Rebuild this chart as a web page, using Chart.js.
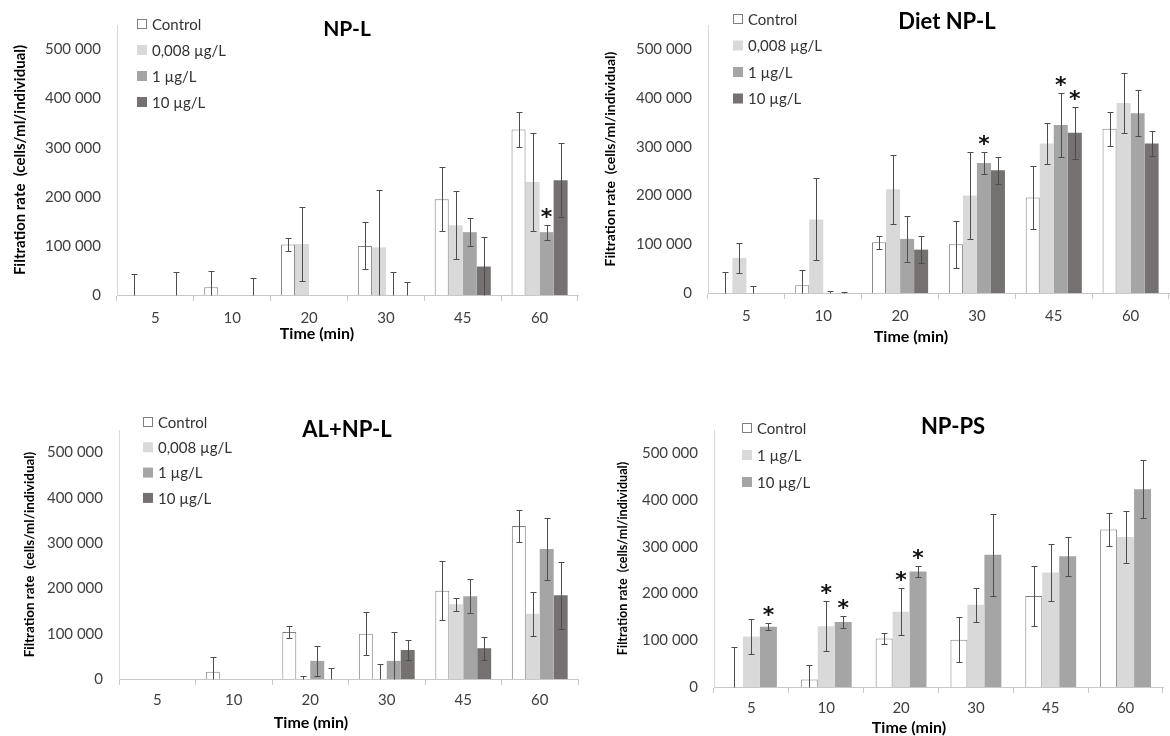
<!DOCTYPE html>
<html>
<head>
<meta charset="utf-8">
<script src="https://cdn.jsdelivr.net/npm/chart.js@4.4.1/dist/chart.umd.min.js"></script>
<style>
  body { margin: 0; background: #fff; width: 1170px; height: 736px; position: relative; overflow: hidden; }
  canvas { position: absolute; }
</style>
</head>
<body>
<canvas id="c1" width="590" height="370" style="left:0;top:0"></canvas>
<canvas id="c2" width="580" height="370" style="left:590px;top:0"></canvas>
<canvas id="c3" width="590" height="361" style="left:0;top:375px"></canvas>
<canvas id="c4" width="580" height="361" style="left:590px;top:375px"></canvas>
<script>
// --- shared axis data ---
const times = ['5', '10', '20', '30', '45', '60'];
const yTicks = [0, 100000, 200000, 300000, 400000, 500000];
const yMax = 550000;
const labels4 = ['Control', '0,008 µg/L', '1 µg/L', '10 µg/L'];
const labels3 = ['Control', '1 µg/L', '10 µg/L'];

// --- NP-L ---
const nplControl    = [0, 16000, 103000, 100000, 195000, 337000];
const nplControlErr = [43000, 32000, 14000, 48000, 65000, 35000];
const nplLow        = [0, 0, 104000, 97000, 142000, 230000];
const nplLowErr     = [0, 0, 75000, 116000, 69000, 100000];
const nplMid        = [0, 0, 0, 0, 128000, 128000];
const nplMidErr     = [0, 0, 0, 47000, 28000, 15000];
const nplHigh       = [0, 0, 0, 0, 58000, 234000];
const nplHighErr    = [47000, 35000, 0, 27000, 60000, 75000];
const nplMidSig     = [0, 0, 0, 0, 0, 1];

// --- Diet NP-L ---
const dietControl    = [0, 16000, 104000, 100000, 196000, 337000];
const dietControlErr = [44000, 32000, 13000, 48000, 64000, 35000];
const dietLow        = [72000, 151000, 213000, 200000, 307000, 390000];
const dietLowErr     = [30000, 84000, 71000, 89000, 42000, 61000];
const dietMid        = [0, 0, 111000, 267000, 345000, 369000];
const dietMidErr     = [14000, 4000, 47000, 22000, 65000, 47000];
const dietHigh       = [0, 0, 89000, 252000, 329000, 307000];
const dietHighErr    = [0, 2000, 28000, 28000, 53000, 25000];
const dietMidSig     = [0, 0, 0, 1, 1, 0];
const dietHighSig    = [0, 0, 0, 0, 1, 0];

// --- AL+NP-L ---
const alControl    = [0, 16000, 104000, 100000, 195000, 338000];
const alControlErr = [0, 32000, 14000, 48000, 65000, 35000];
const alLow        = [0, 0, 0, 0, 165000, 144000];
const alLowErr     = [0, 0, 6000, 33000, 14000, 48000];
const alMid        = [0, 0, 40000, 40000, 183000, 287000];
const alMidErr     = [0, 0, 33000, 64000, 37000, 68000];
const alHigh       = [0, 0, 0, 64000, 68000, 185000];
const alHighErr    = [0, 0, 24000, 23000, 25000, 74000];

// --- NP-PS ---
const psControl    = [0, 16000, 104000, 101000, 195000, 337000];
const psControlErr = [85000, 31000, 12000, 48000, 65000, 35000];
const psLow        = [108000, 130000, 161000, 176000, 245000, 321000];
const psLowErr     = [37000, 53000, 50000, 36000, 62000, 55000];
const psHigh       = [129000, 139000, 247000, 283000, 280000, 423000];
const psHighErr    = [8000, 13000, 12000, 88000, 42000, 62000];
const psLowSig     = [0, 1, 1, 0, 0, 0];
const psHighSig    = [1, 1, 1, 0, 0, 0];

const WHITE = '#ffffff', LIGHT = '#d9d9d9', MID = '#a5a5a5', DARK = '#767171';

Chart.defaults.font.family = 'Lato, "Open Sans", sans-serif';

function fmt(v) {
    return String(v).replace(/\B(?=(\d{3})+(?!\d))/g, ' ');
}

function serie(label, color, data, errors, sig) {
    return {
        label: label,
        data: data,
        errors: errors,
        sig: sig || [],
        backgroundColor: color,
        borderColor: color === WHITE ? '#7f7f7f' : color,
        borderWidth: color === WHITE ? 1 : 0
    };
}

// error bars, asterisks, titles and legend
const decor = {
    id: 'decor',
    afterDatasetsDraw(chart) {
        const { ctx, scales: { y } } = chart;
        ctx.save();
        ctx.strokeStyle = '#4d4d4d';
        ctx.lineWidth = 1;
        chart.data.datasets.forEach((ds, di) => {
            const meta = chart.getDatasetMeta(di);
            meta.data.forEach((bar, i) => {
                const e = ds.errors[i];
                if (!e) return;
                const v = ds.data[i];
                const x = Math.round(bar.x) + 0.5;
                const yTop = Math.round(y.getPixelForValue(v + e)) + 0.5;
                const low = v - e;
                const yBot = Math.round(y.getPixelForValue(Math.max(0, low))) + 0.5;
                ctx.beginPath();
                ctx.moveTo(x, yTop); ctx.lineTo(x, yBot);
                ctx.moveTo(x - 3, yTop); ctx.lineTo(x + 3, yTop);
                if (low > 0) { ctx.moveTo(x - 3, yBot); ctx.lineTo(x + 3, yBot); }
                ctx.stroke();
            });
        });
        // asterisks (significance)
        ctx.fillStyle = '#111';
        ctx.font = 'bold 22px "DejaVu Sans"';
        ctx.textAlign = 'center';
        ctx.textBaseline = 'alphabetic';
        chart.data.datasets.forEach((ds, di) => {
            const meta = chart.getDatasetMeta(di);
            ds.sig.forEach((s, i) => {
                if (!s) return;
                const top = y.getPixelForValue(ds.data[i] + ds.errors[i]);
                ctx.fillText('*', meta.data[i].x, top - 1);
            });
        });
        ctx.restore();
    },
    afterDraw(chart, args, opts) {
        const ctx = chart.ctx;
        ctx.save();
        ctx.textAlign = 'center';
        ctx.textBaseline = 'middle';
        ctx.fillStyle = '#000';
        ctx.font = 'bold ' + opts.titleSize + 'px Lato';
        ctx.fillText(opts.title, opts.titleX, opts.titleY);
        ctx.font = 'bold 16px Lato';
        ctx.fillText('Time (min)', opts.xTitleX, opts.xTitleY);
        // legend
        ctx.textAlign = 'left';
        ctx.font = '15px Lato';
        chart.data.datasets.forEach((ds, i) => {
            const yy = opts.legendY + i * opts.legendStep;
            ctx.fillStyle = ds.backgroundColor;
            ctx.fillRect(opts.legendX, yy - 5, 10, 10);
            if (ds.backgroundColor === WHITE) {
                ctx.strokeStyle = '#7f7f7f';
                ctx.lineWidth = 1;
                ctx.strokeRect(opts.legendX + 0.5, yy - 4.5, 9, 9);
            }
            ctx.fillStyle = '#333';
            ctx.fillText(ds.label, opts.legendX + 15, yy + 1);
        });
        ctx.restore();
    }
};

function makePanel(id, datasets, box, deco) {
    const canvas = document.getElementById(id);
    const yTitleLine = box.yTitleSize * 1.2;
    return new Chart(canvas, {
        type: 'bar',
        data: { labels: times, datasets: datasets },
        options: {
            responsive: false,
            animation: false,
            events: [],
            categoryPercentage: box.catPct,
            barPercentage: 1,
            layout: { padding: { left: 0, top: box.top, right: canvas.width - box.right, bottom: 0 } },
            plugins: {
                legend: { display: false },
                tooltip: { enabled: false },
                decor: deco
            },
            scales: {
                x: {
                    grid: { display: true, offset: true, drawOnChartArea: false, drawTicks: true, tickLength: 6, color: '#c8c8c8' },
                    border: { display: true, color: '#c8c8c8' },
                    ticks: { color: '#404040', font: { size: 15 }, padding: box.xPad, maxRotation: 0 },
                    afterFit: (s) => { s.height = canvas.height - box.bottom; }
                },
                y: {
                    min: 0,
                    max: yMax,
                    grid: { display: false, drawTicks: false },
                    border: { display: true, color: '#d9d9d9' },
                    ticks: { color: '#404040', font: { size: 15 }, padding: 16, callback: (v) => fmt(v) },
                    afterBuildTicks: (s) => { s.ticks = yTicks.map(v => ({ value: v })); },
                    afterFit: (s) => { s.width = box.left; },
                    title: {
                        display: true,
                        text: 'Filtration rate  (cells/ml/individual)',
                        color: '#000',
                        font: { size: box.yTitleSize, weight: 'bold' },
                        padding: { top: box.yTitleX - yTitleLine / 2, bottom: 0 }
                    }
                }
            }
        },
        plugins: [decor]
    });
}

makePanel('c1', [
    serie(labels4[0], WHITE, nplControl, nplControlErr),
    serie(labels4[1], LIGHT, nplLow, nplLowErr),
    serie(labels4[2], MID, nplMid, nplMidErr, nplMidSig),
    serie(labels4[3], DARK, nplHigh, nplHighErr)
], { left: 117, right: 578, top: 25, bottom: 295, xPad: 8, yTitleX: 20, yTitleSize: 15, catPct: 0.73 },
   { title: 'NP-L', titleSize: 21, titleX: 347, titleY: 29, xTitleX: 317, xTitleY: 334,
     legendX: 137, legendY: 24, legendStep: 26 });

makePanel('c2', [
    serie(labels4[0], WHITE, dietControl, dietControlErr),
    serie(labels4[1], LIGHT, dietLow, dietLowErr),
    serie(labels4[2], MID, dietMid, dietMidErr, dietMidSig),
    serie(labels4[3], DARK, dietHigh, dietHighErr, dietHighSig)
], { left: 118, right: 579, top: 17, bottom: 293, xPad: 8, yTitleX: 20, yTitleSize: 14, catPct: 0.73 },
   { title: 'Diet NP-L', titleSize: 22, titleX: 357, titleY: 22, xTitleX: 321, xTitleY: 337,
     legendX: 143, legendY: 19, legendStep: 26.5 });

makePanel('c3', [
    serie(labels4[0], WHITE, alControl, alControlErr),
    serie(labels4[1], LIGHT, alLow, alLowErr),
    serie(labels4[2], MID, alMid, alMidErr),
    serie(labels4[3], DARK, alHigh, alHighErr)
], { left: 119, right: 578, top: 55, bottom: 304, xPad: 6, yTitleX: 30, yTitleSize: 13.4, catPct: 0.73 },
   { title: 'AL+NP-L', titleSize: 22, titleX: 347, titleY: 55, xTitleX: 311, xTitleY: 348,
     legendX: 143, legendY: 47, legendStep: 25.3 });

makePanel('c4', [
    serie(labels3[0], WHITE, psControl, psControlErr),
    serie(labels3[1], LIGHT, psLow, psLowErr, psLowSig),
    serie(labels3[2], MID, psHigh, psHighErr, psHighSig)
], { left: 124, right: 573, top: 55, bottom: 312, xPad: 6, yTitleX: 33, yTitleSize: 12.6, catPct: 0.68 },
   { title: 'NP-PS', titleSize: 22, titleX: 363, titleY: 52, xTitleX: 319, xTitleY: 353,
     legendX: 152, legendY: 53, legendStep: 27 });
</script>
</body>
</html>
